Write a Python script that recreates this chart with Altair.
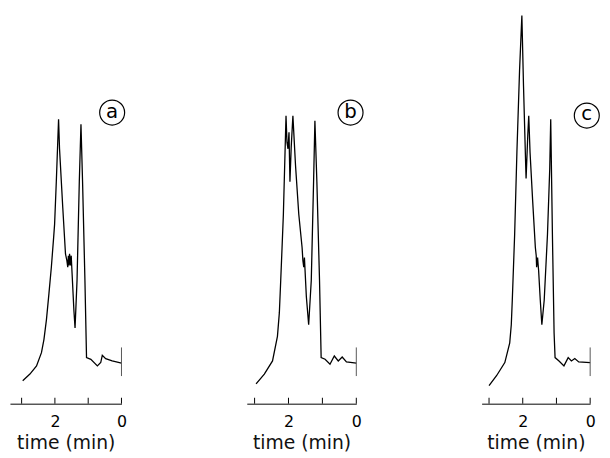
import altair as alt
import pandas as pd

# ---- data (time in min, detector response in arbitrary units) ----
t_a = [2.967, 2.751, 2.552, 2.404, 2.330, 2.255, 2.178, 2.107, 2.039, 2.009, 1.958, 1.890,
       1.861, 1.763, 1.682, 1.640, 1.614, 1.595, 1.579, 1.560, 1.534, 1.510, 1.484, 1.430,
       1.395, 1.335, 1.267, 1.217, 1.169, 1.098, 1.050, 0.920, 0.724, 0.623, 0.576, 0.475,
       0.279, 0.0]
r_a = [23.3, 30.0, 38.3, 51.7, 65.0, 85.0, 112.0, 138.3, 168.0, 182.0, 225.0, 288.3,
       258.3, 198.3, 151.7, 145.0, 138.3, 150.0, 140.0, 152.0, 140.0, 150.0, 132.0, 95.0,
       76.7, 125.0, 225.0, 283.3, 225.0, 125.0, 46.7, 45.0, 38.3, 41.7, 49.0, 45.7,
       43.3, 41.0]

t_b = [2.956, 2.713, 2.471, 2.326, 2.270, 2.229, 2.190, 2.151, 2.073, 2.045, 2.015, 1.985,
       1.957, 1.920, 1.870, 1.793, 1.696, 1.599, 1.575, 1.550, 1.530, 1.473, 1.405, 1.328,
       1.260, 1.221, 1.163, 1.085, 1.037, 0.921, 0.776, 0.649, 0.532, 0.416, 0.291, 0.0]
r_b = [20.0, 30.0, 43.3, 68.3, 92.0, 125.0, 158.0, 191.7, 291.7, 265.0, 258.3, 275.0,
       225.0, 260.0, 291.7, 241.7, 191.7, 158.3, 145.0, 138.3, 148.0, 108.3, 80.0, 125.0,
       225.0, 286.7, 225.0, 125.0, 46.7, 45.0, 40.0, 48.3, 43.3, 47.3, 42.3, 41.0]

t_c = [3.0, 2.778, 2.532, 2.386, 2.340, 2.310, 2.240, 2.173, 2.094, 2.026, 1.977, 1.918,
       1.901, 1.851, 1.822, 1.784, 1.705, 1.626, 1.600, 1.588, 1.560, 1.529, 1.480, 1.433,
       1.363, 1.266, 1.199, 1.170, 1.120, 1.070, 1.041, 0.924, 0.778, 0.652, 0.556, 0.456,
       0.339, 0.0]
r_c = [18.3, 28.3, 41.7, 61.7, 80.0, 105.0, 171.7, 255.0, 338.3, 393.3, 321.7, 248.3,
       228.3, 271.7, 291.7, 255.0, 205.0, 158.3, 150.0, 138.3, 148.0, 135.0, 105.0, 80.0,
       105.0, 171.7, 238.3, 288.3, 171.7, 71.7, 46.7, 43.3, 38.3, 46.7, 43.3, 45.7,
       42.3, 41.7]

tick_values = [0, 1, 2, 3]
marker_low, marker_high = 28, 57
panel_labels = ["a", "b", "c"]
label_t = [0.28, 0.17, 0.10]
label_r = [295, 295, 292]
x_start = [3.35, 3.23, 3.22]
widths = [113, 111, 110]

H = 395
FONT = "DejaVu Sans"


def make_panel(t, r, lab, lt, lr, lo, w):
    df = pd.DataFrame({"t": t, "r": r, "i": list(range(len(t)))})
    x = alt.X("t:Q",
              scale=alt.Scale(domain=[lo, 0], nice=False, zero=False),
              axis=alt.Axis(values=tick_values, title="time (min)",
                            labelExpr="datum.value == 0 || datum.value == 2 ? datum.label : ''",
                            ticks=False, tickSize=0, grid=False, domain=True,
                            domainColor="black", domainWidth=1,
                            labelFont=FONT, labelFontSize=16, labelColor="black",
                            labelPadding=10, labelFlush=False,
                            titleFont=FONT, titleFontSize=19, titleFontWeight="normal",
                            titleColor="#111111", titlePadding=4))
    y = alt.Y("r:Q", scale=alt.Scale(domain=[0, H], nice=False), axis=None)

    line = alt.Chart(df).mark_line(color="black", strokeWidth=1.3).encode(
        x=x, y=y, order="i:Q")
    ticks = alt.Chart(pd.DataFrame({"t": tick_values})).mark_rule(
        color="black", strokeWidth=1).encode(x=x, y=alt.value(H), y2=alt.value(H - 6))
    marker = alt.Chart(pd.DataFrame({"t": [0], "r": [marker_low], "r2": [marker_high]})).mark_rule(
        color="#555555", strokeWidth=1).encode(x=x, y=y, y2="r2:Q")
    lab_df = pd.DataFrame({"t": [lt], "r": [lr], "s": [lab]})
    circ = alt.Chart(lab_df).mark_point(shape="circle", size=640, filled=False,
                                        color="black", strokeWidth=1.2, opacity=1).encode(x=x, y=y)
    txt = alt.Chart(lab_df).mark_text(font=FONT, fontSize=20, color="black",
                                      align="center", baseline="middle", dy=-1).encode(
        x=x, y=y, text="s:N")
    return alt.layer(line, ticks, marker, circ, txt).properties(width=w, height=H)


panels = [
    make_panel(t_a, r_a, panel_labels[0], label_t[0], label_r[0], x_start[0], widths[0]),
    make_panel(t_b, r_b, panel_labels[1], label_t[1], label_r[1], x_start[1], widths[1]),
    make_panel(t_c, r_c, panel_labels[2], label_t[2], label_r[2], x_start[2], widths[2]),
]

chart = alt.hconcat(*panels, spacing=127, bounds="flush").properties(
    padding={"left": 2, "top": 2, "right": 0, "bottom": 0},
    background="white",
).configure_view(stroke=None)

chart.save("out.html", embed_options={"renderer": "svg", "actions": False})
